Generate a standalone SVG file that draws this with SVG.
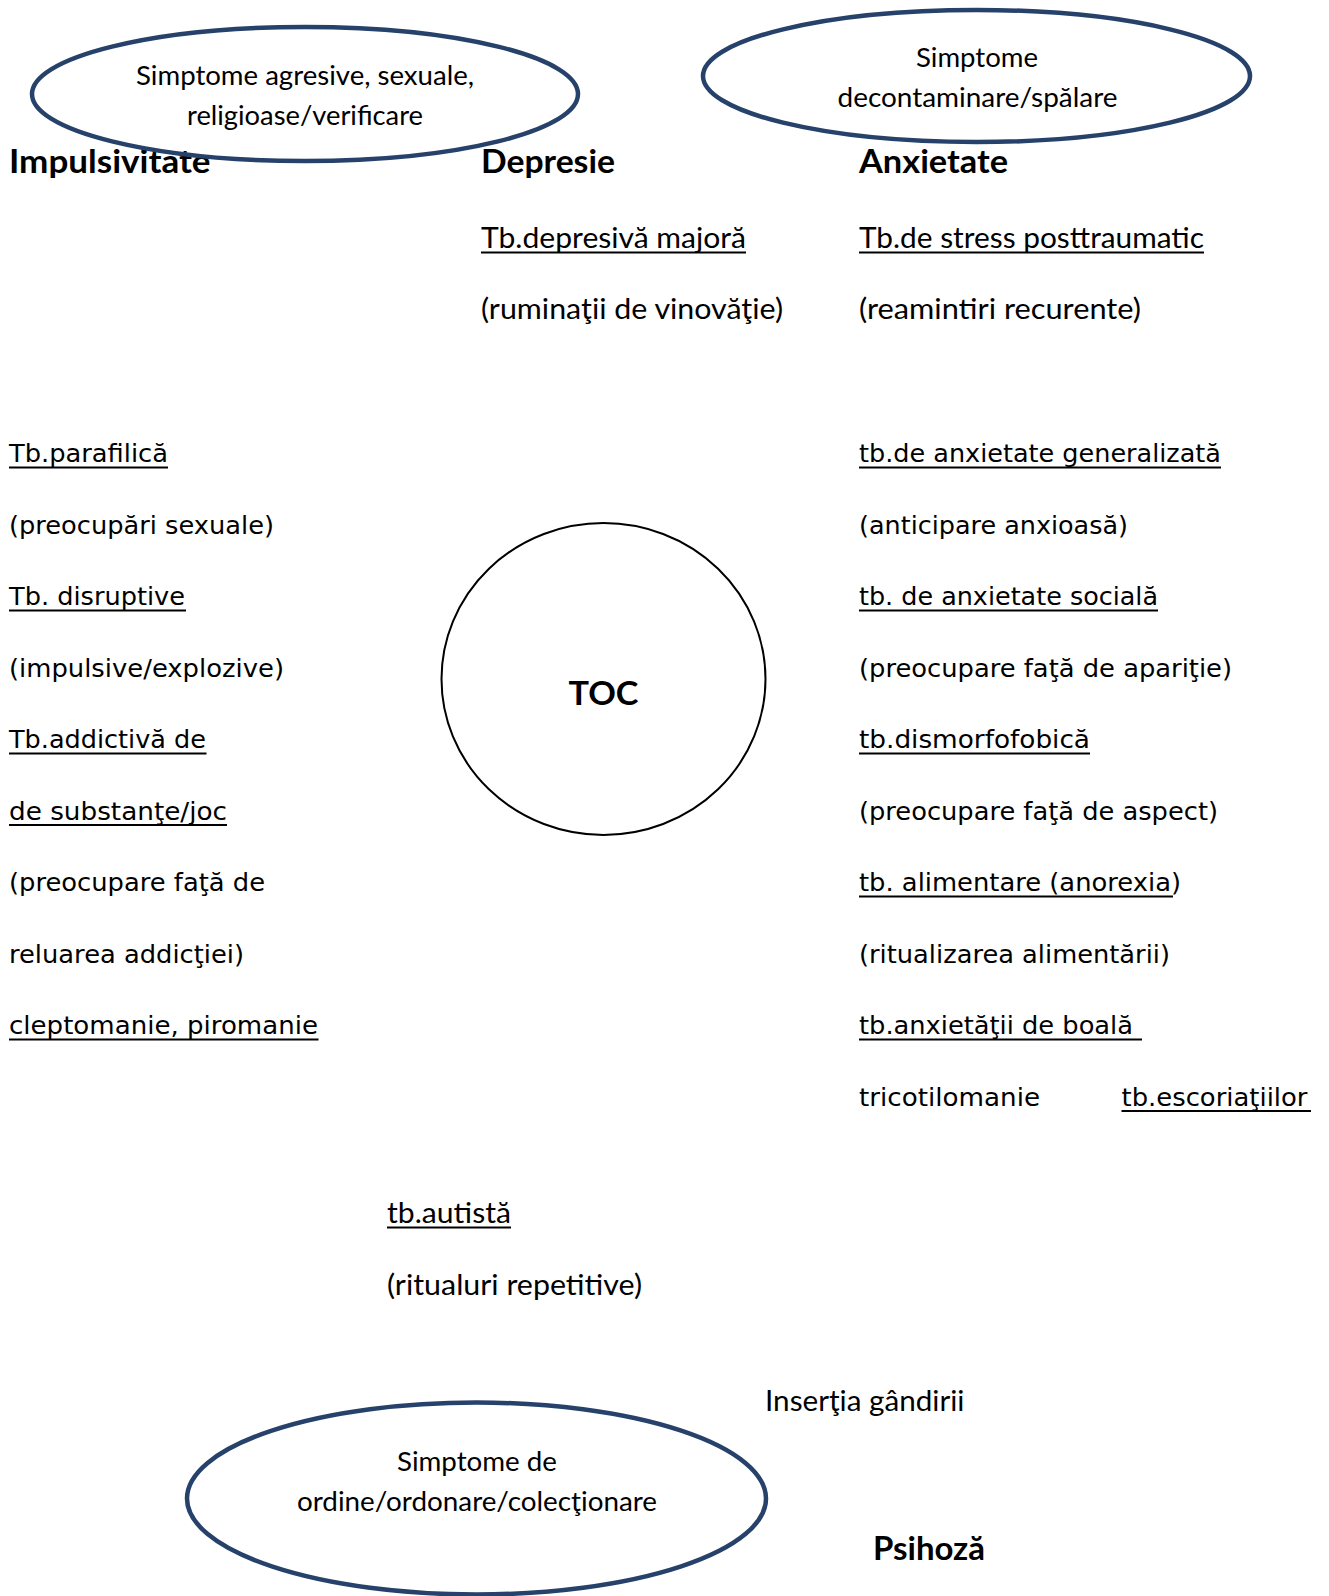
<svg xmlns="http://www.w3.org/2000/svg" width="1329" height="1596" viewBox="0 0 1329 1596">
  <style>
    .bg { fill: #ffffff; }
    .sym { fill: none; stroke: #26416A; stroke-width: 4.5; }
    .core { fill: none; stroke: #000000; stroke-width: 2; }
    .cal { font-family: Lato, "Open Sans", "Liberation Sans", sans-serif; font-size: 29px; fill: #000; }
    .small { font-size: 26.5px; }
    .head { font-family: Lato, "Open Sans", "Liberation Sans", sans-serif; font-weight: bold; font-size: 33px; fill: #000; }
    .ver { font-family: "DejaVu Sans", Verdana, sans-serif; font-size: 25.5px; fill: #000; }
    .ul { stroke: #000; stroke-width: 2; }
  </style>
  <rect class="bg" x="0" y="0" width="1329" height="1596"/>

  <!-- category headings -->
  <g id="heading-impulsivitate">
    <text class="head" x="9" y="173" textLength="201.5" lengthAdjust="spacingAndGlyphs">Impulsivitate</text>
  </g>
  <g id="heading-depresie">
    <text class="head" x="481" y="173" textLength="134" lengthAdjust="spacingAndGlyphs">Depresie</text>
  </g>
  <g id="heading-anxietate">
    <text class="head" x="859" y="173" textLength="149" lengthAdjust="spacingAndGlyphs">Anxietate</text>
  </g>

  <!-- symptom-dimension ellipses -->
  <g id="sym-agresive">
    <ellipse class="sym" cx="305" cy="94" rx="273" ry="67"/>
    <text class="cal small" x="136" y="84.5" textLength="338" lengthAdjust="spacingAndGlyphs">Simptome agresive, sexuale,</text>
    <text class="cal small" x="187" y="125" textLength="236" lengthAdjust="spacingAndGlyphs">religioase/verificare</text>
  </g>
  <g id="sym-decontaminare">
    <ellipse class="sym" cx="976.5" cy="76" rx="273.5" ry="66"/>
    <text class="cal small" x="916" y="67" textLength="122" lengthAdjust="spacingAndGlyphs">Simptome</text>
    <text class="cal small" x="837.5" y="107" textLength="280" lengthAdjust="spacingAndGlyphs">decontaminare/spălare</text>
  </g>
  <g id="sym-ordine">
    <ellipse class="sym" cx="476.5" cy="1498.5" rx="289.5" ry="96"/>
    <text class="cal small" x="397" y="1470.5" textLength="160" lengthAdjust="spacingAndGlyphs">Simptome de</text>
    <text class="cal small" x="297" y="1511" textLength="360" lengthAdjust="spacingAndGlyphs">ordine/ordonare/colecţionare</text>
  </g>

  <!-- central node -->
  <g id="toc">
    <ellipse class="core" cx="603.5" cy="679" rx="162" ry="156"/>
    <text class="head" x="568.5" y="705" font-size="37" textLength="70" lengthAdjust="spacingAndGlyphs">TOC</text>
  </g>

  <!-- depression column -->
  <g id="depresie-majora">
    <text class="cal" x="481" y="247.5" textLength="265" lengthAdjust="spacingAndGlyphs">Tb.depresivă majoră</text>
    <line class="ul" x1="481" y1="252.5" x2="746" y2="252.5"/>
    <text class="cal" x="481" y="319" textLength="302" lengthAdjust="spacingAndGlyphs">(ruminaţii de vinovăţie)</text>
  </g>

  <!-- anxiety column -->
  <g id="anx-ptsd">
    <text class="cal" x="859" y="247.5" textLength="345" lengthAdjust="spacingAndGlyphs">Tb.de stress posttraumatic</text>
    <line class="ul" x1="859" y1="252.5" x2="1204" y2="252.5"/>
    <text class="cal" x="859" y="319" textLength="282" lengthAdjust="spacingAndGlyphs">(reamintiri recurente)</text>
  </g>
  <g id="anx-generalizata">
    <text class="ver" x="859" y="462" textLength="362" lengthAdjust="spacingAndGlyphs">tb.de anxietate generalizată</text>
    <line class="ul" x1="859" y1="467.5" x2="1221" y2="467.5"/>
    <text class="ver" x="859" y="533.5" textLength="269" lengthAdjust="spacingAndGlyphs">(anticipare anxioasă)</text>
  </g>
  <g id="anx-sociala">
    <text class="ver" x="859" y="605" textLength="299" lengthAdjust="spacingAndGlyphs">tb. de anxietate socială</text>
    <line class="ul" x1="859" y1="610.5" x2="1158" y2="610.5"/>
    <text class="ver" x="859" y="676.5" textLength="373" lengthAdjust="spacingAndGlyphs">(preocupare faţă de apariţie)</text>
  </g>
  <g id="anx-dismorfofobica">
    <text class="ver" x="859" y="748" textLength="231" lengthAdjust="spacingAndGlyphs">tb.dismorfofobică</text>
    <line class="ul" x1="859" y1="753.5" x2="1090" y2="753.5"/>
    <text class="ver" x="859" y="819.5" textLength="359" lengthAdjust="spacingAndGlyphs">(preocupare faţă de aspect)</text>
  </g>
  <g id="anx-alimentare">
    <text class="ver" x="859" y="891" textLength="322" lengthAdjust="spacingAndGlyphs">tb. alimentare (anorexia)</text>
    <line class="ul" x1="859" y1="896.5" x2="1173" y2="896.5"/>
    <text class="ver" x="859" y="962.5" textLength="311" lengthAdjust="spacingAndGlyphs">(ritualizarea alimentării)</text>
  </g>
  <g id="anx-boala">
    <text class="ver" x="859" y="1034" textLength="274" lengthAdjust="spacingAndGlyphs">tb.anxietăţii de boală</text>
    <line class="ul" x1="859" y1="1039.5" x2="1142" y2="1039.5"/>
  </g>
  <g id="tricotilomanie">
    <text class="ver" x="859" y="1105.5" textLength="181" lengthAdjust="spacingAndGlyphs">tricotilomanie</text>
  </g>
  <g id="escoriatii">
    <text class="ver" x="1121.5" y="1105.5" textLength="186" lengthAdjust="spacingAndGlyphs">tb.escoriaţiilor</text>
    <line class="ul" x1="1121.5" y1="1111" x2="1311" y2="1111"/>
  </g>

  <!-- impulsivity column -->
  <g id="imp-parafilica">
    <text class="ver" x="9" y="462" textLength="159" lengthAdjust="spacingAndGlyphs">Tb.parafilică</text>
    <line class="ul" x1="9" y1="467.5" x2="168" y2="467.5"/>
    <text class="ver" x="9" y="533.5" textLength="265" lengthAdjust="spacingAndGlyphs">(preocupări sexuale)</text>
  </g>
  <g id="imp-disruptive">
    <text class="ver" x="9" y="605" textLength="176" lengthAdjust="spacingAndGlyphs">Tb. disruptive</text>
    <line class="ul" x1="9" y1="610.5" x2="186" y2="610.5"/>
    <text class="ver" x="9" y="676.5" textLength="275" lengthAdjust="spacingAndGlyphs">(impulsive/explozive)</text>
  </g>
  <g id="imp-addictiva">
    <text class="ver" x="9" y="748" textLength="197" lengthAdjust="spacingAndGlyphs">Tb.addictivă de</text>
    <line class="ul" x1="9" y1="753.5" x2="206.5" y2="753.5"/>
    <text class="ver" x="9" y="819.5" textLength="218" lengthAdjust="spacingAndGlyphs">de substanţe/joc</text>
    <line class="ul" x1="9" y1="825" x2="227" y2="825"/>
    <text class="ver" x="9" y="891" textLength="256" lengthAdjust="spacingAndGlyphs">(preocupare faţă de</text>
    <text class="ver" x="9" y="962.5" textLength="235" lengthAdjust="spacingAndGlyphs">reluarea addicţiei)</text>
  </g>
  <g id="imp-cleptomanie">
    <text class="ver" x="9" y="1034" textLength="309" lengthAdjust="spacingAndGlyphs">cleptomanie, piromanie</text>
    <line class="ul" x1="9" y1="1039.5" x2="318.5" y2="1039.5"/>
  </g>

  <!-- neurodevelopmental -->
  <g id="autista">
    <text class="cal" x="387" y="1222.5" textLength="124" lengthAdjust="spacingAndGlyphs">tb.autistă</text>
    <line class="ul" x1="387" y1="1227.5" x2="511" y2="1227.5"/>
    <text class="cal" x="387" y="1294.5" textLength="255" lengthAdjust="spacingAndGlyphs">(ritualuri repetitive)</text>
  </g>

  <!-- psychosis -->
  <g id="insertia">
    <text class="cal" x="765" y="1411" textLength="199.5" lengthAdjust="spacingAndGlyphs">Inserţia gândirii</text>
  </g>
  <g id="psihoza">
    <text class="head" x="873" y="1560" textLength="112" lengthAdjust="spacingAndGlyphs">Psihoză</text>
  </g>
</svg>
